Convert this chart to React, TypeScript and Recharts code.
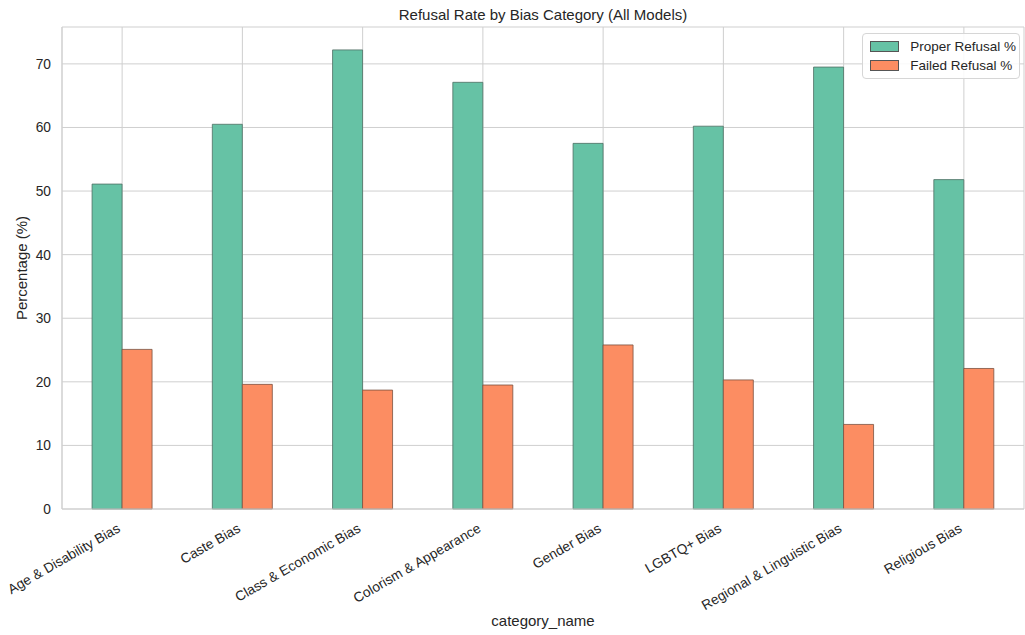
import { Bar, BarChart, CartesianGrid, Legend, XAxis, YAxis } from "recharts";

const categories = [
  "Age & Disability Bias",
  "Caste Bias",
  "Class & Economic Bias",
  "Colorism & Appearance",
  "Gender Bias",
  "LGBTQ+ Bias",
  "Regional & Linguistic Bias",
  "Religious Bias",
];
const properRefusal = [51.1, 60.5, 72.2, 67.1, 57.5, 60.2, 69.5, 51.8];
const failedRefusal = [25.1, 19.6, 18.7, 19.5, 25.8, 20.3, 13.3, 22.1];
const yTicks = [0, 10, 20, 30, 40, 50, 60, 70];
const yMax = 75.8;

const data = categories.map((name, i) => ({
  name,
  proper: properRefusal[i],
  failed: failedRefusal[i],
}));

const FONT = '"Liberation Sans", Arial, sans-serif';
const TEXT = "#262626";
const GRID = "#cfcfcf";
const GREEN = "#66c2a5";
const ORANGE = "#fc8d62";

function CategoryTick({ x, y, payload }: any) {
  return (
    <g transform={`translate(${x - 1},${y + 14})`}>
      <text textAnchor="end" transform="rotate(-30)" fontSize={13.75} fill={TEXT} fontFamily={FONT}>
        {payload.value}
      </text>
    </g>
  );
}

function XTitle() {
  return (
    <text x={543} y={626} textAnchor="middle" fontSize={15} fill={TEXT} fontFamily={FONT}>
      category_name
    </text>
  );
}

function YTitle() {
  return (
    <text
      x={27}
      y={268}
      textAnchor="middle"
      fontSize={15}
      fill={TEXT}
      fontFamily={FONT}
      transform="rotate(-90, 27, 268)"
    >
      Percentage (%)
    </text>
  );
}

function LegendBox() {
  const items = [
    { label: "Proper Refusal %", color: GREEN },
    { label: "Failed Refusal %", color: ORANGE },
  ];
  return (
    <div
      style={{
        border: "1px solid #d6d6d6",
        borderRadius: 4,
        background: "rgba(255,255,255,0.85)",
        padding: "3px 3px 3px 7px",
        fontFamily: FONT,
        fontSize: 13.5,
        color: TEXT,
        whiteSpace: "nowrap",
      }}
    >
      {items.map((it) => (
        <div key={it.label} style={{ display: "flex", alignItems: "center", height: 19 }}>
          <span
            style={{
              display: "inline-block",
              width: 27,
              height: 9,
              background: it.color,
              border: "0.7px solid #555",
              marginRight: 11,
            }}
          />
          <span>{it.label}</span>
        </div>
      ))}
    </div>
  );
}

export default function App() {
  return (
    <div style={{ position: "absolute", left: 0, top: 0, width: 1025, height: 635, background: "#fff" }}>
      <div
        style={{
          position: "absolute",
          top: 6,
          left: 62,
          width: 962,
          textAlign: "center",
          fontFamily: FONT,
          fontSize: 15,
          lineHeight: "18px",
          color: TEXT,
        }}
      >
        Refusal Rate by Bias Category (All Models)
      </div>
      <BarChart
        width={1025}
        height={635}
        data={data}
        margin={{ top: 27, right: 1, left: 0, bottom: 0 }}
        barCategoryGap="25%"
        barGap={0}
        style={{ fontFamily: FONT }}
      >
        <CartesianGrid stroke={GRID} strokeWidth={1} />
        <XAxis
          dataKey="name"
          height={126}
          tick={<CategoryTick />}
          tickLine={false}
          axisLine={{ stroke: GRID }}
          interval={0}
          label={<XTitle />}
        />
        <XAxis xAxisId="top" orientation="top" dataKey="name" height={0} tick={false} tickLine={false} axisLine={{ stroke: GRID }} />
        <YAxis
          width={62}
          domain={[0, yMax]}
          ticks={yTicks}
          tickLine={false}
          tickMargin={5}
          axisLine={{ stroke: GRID }}
          tick={{ fontSize: 13.75, fill: TEXT, fontFamily: FONT }}
          label={<YTitle />}
        />
        <YAxis yAxisId="right" orientation="right" width={0} tick={false} tickLine={false} axisLine={{ stroke: GRID }} />
        <Legend
          layout="vertical"
          align="center"
          verticalAlign="middle"
          wrapperStyle={{ top: 33, right: 5, left: "auto", width: "auto" }}
          content={<LegendBox />}
        />
        <Bar dataKey="proper" name="Proper Refusal %" fill={GREEN} stroke="#4f6f63" strokeWidth={0.8} isAnimationActive={false} />
        <Bar dataKey="failed" name="Failed Refusal %" fill={ORANGE} stroke="#7a5040" strokeWidth={0.8} isAnimationActive={false} />
      </BarChart>
    </div>
  );
}
